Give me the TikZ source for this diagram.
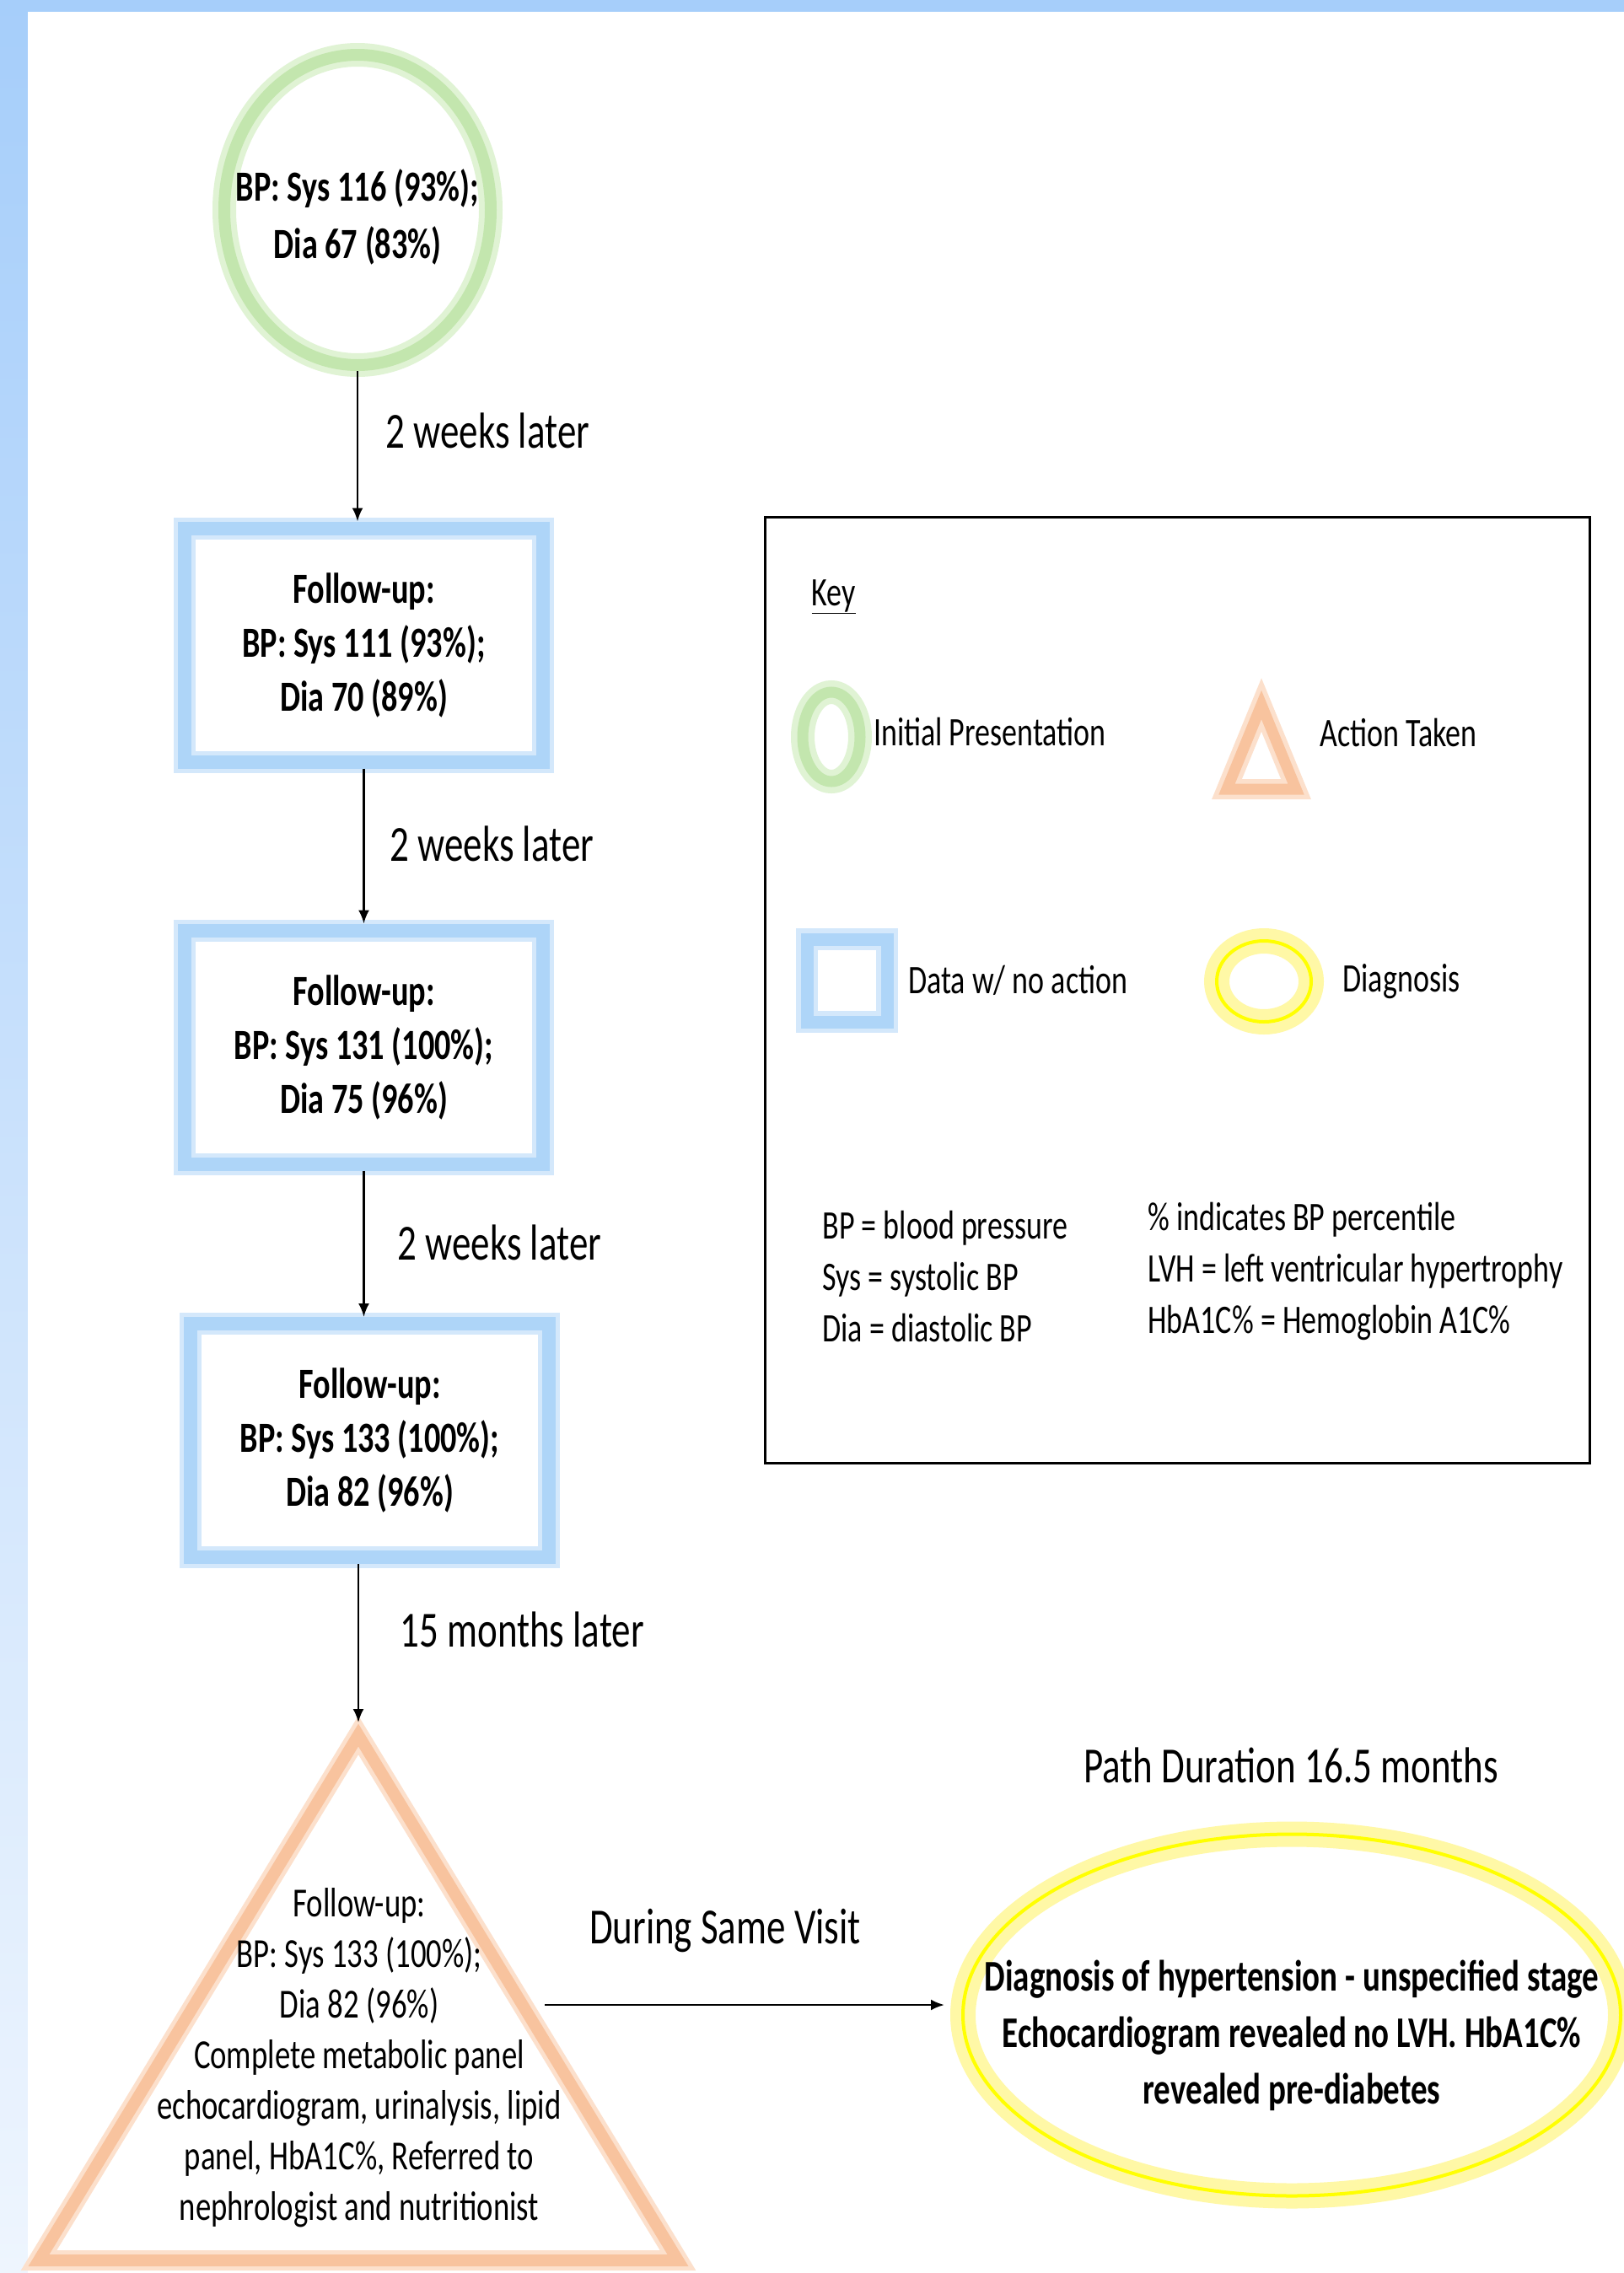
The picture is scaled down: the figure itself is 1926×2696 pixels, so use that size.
\documentclass[tikz,border=0pt]{standalone}
\usepackage{fontspec}
\setmainfont{Carlito}[FakeStretch=0.75]
\usepackage[svgnames]{xcolor}
\definecolor{bgblue}{HTML}{A6CEFA}
\definecolor{bgpale}{HTML}{EEF5FE}
\definecolor{initgreen}{HTML}{C3E6AE}
\definecolor{glowgreen}{HTML}{E0F3D4}
\definecolor{datablue}{HTML}{AED5F8}
\definecolor{glowblue}{HTML}{D4E8FB}
\definecolor{actorange}{HTML}{F8C39E}
\definecolor{gloworange}{HTML}{FCE0CC}
\definecolor{diagyellow}{HTML}{FFFF00}
\definecolor{glowyellow}{HTML}{FFF8A6}
\usepackage{tikz}
\usetikzlibrary{positioning,arrows.meta,shapes.geometric}
\tikzset{
  initNode/.style={%
    ellipse,
    draw=initgreen,
    line width=14pt,
    preaction={draw=glowgreen,line width=28pt},
    minimum width=316pt,
    minimum height=368pt,
    inner sep=0pt},
  initText/.style={%
    align=center,
    font=\fontsize{51}{68}\selectfont\bfseries},
  dataBox/.style={%
    rectangle,
    draw=datablue,
    line width=16pt,
    preaction={draw=glowblue,line width=26pt},
    minimum width=425pt,
    minimum height=277pt,
    align=center,
    font=\fontsize{51}{64}\selectfont\bfseries},
  actTri/.style={%
    draw=actorange,
    line width=14pt,
    preaction={draw=gloworange,line width=24pt}},
  actText/.style={%
    align=center,
    font=\fontsize{49}{60}\selectfont},
  diagNode/.style={%
    ellipse,
    draw=diagyellow,
    line width=4pt,
    preaction={draw=glowyellow,line width=30pt},
    minimum width=780pt,
    minimum height=429pt,
    inner sep=0pt},
  diagText/.style={%
    align=center,
    font=\fontsize{52}{67}\selectfont\bfseries},
  gapLabel/.style={%
    anchor=west,
    font=\fontsize{60}{64}\selectfont},
  flowArrow/.style={%
    -{Latex[length=16pt,width=13pt]},
    line width=2.5pt,
    black},
  keyBox/.style={%
    draw,
    rectangle,
    line width=3pt,
    minimum width=978pt,
    minimum height=1122pt},
  keyText/.style={%
    anchor=west,
    align=left,
    font=\fontsize{48}{61}\selectfont},
  }

\begin{document}
\begin{tikzpicture}[x=1pt,y=-1pt]
  \useasboundingbox (0,0) rectangle (1926,2696);
  \shade[top color=bgblue,bottom color=bgpale] (0,0) rectangle (1926,2696);
  \fill[white] (33,14) rectangle (1926,2696);

  % visits
  \node[initNode,label={[initText,yshift=-8pt]center:{BP: Sys 116 (93\%);\\Dia 67 (83\%)}}] (init) at (424,249) {};
  \node[dataBox] (fu1) at (431.5,765) {Follow-up:\\BP: Sys 111 (93\%);\\Dia 70 (89\%)};
  \node[dataBox] (fu2) at (431.5,1242) {Follow-up:\\BP: Sys 131 (100\%);\\Dia 75 (96\%)};
  \node[dataBox] (fu3) at (438.5,1708.5) {Follow-up:\\BP: Sys 133 (100\%);\\Dia 82 (96\%)};
  \draw[actTri] (425,2058) -- (804,2681) -- (46,2681) -- cycle;
  \coordinate (act top) at (425,2043);
  \coordinate (act side) at (646,2378);
  \node[actText] (act) at (426,2441) {Follow-up:\\BP: Sys 133 (100\%);\\Dia 82 (96\%)\\Complete metabolic panel\\echocardiogram, urinalysis, lipid\\panel, HbA1C\%, Referred to\\nephrologist and nutritionist};
  \node[diagNode,label={[diagText,yshift=-24pt]center:{Diagnosis of hypertension - unspecified stage\\Echocardiogram revealed no LVH. HbA1C\%\\revealed pre-diabetes}}] (diag) at (1532,2390) {};

  \draw[flowArrow] (init.south) -- (init.south |- fu1.north);
  \draw[flowArrow] (fu1.south) -- (fu1.south |- fu2.north);
  \draw[flowArrow] (fu2.south) -- (fu2.south |- fu3.north);
  \draw[flowArrow] (fu3.south -| act top) -- (act top);
  \draw[flowArrow,shorten >=20pt] (act side) -- (act side -| diag.west);

  \node[gapLabel] (gap1) at (454,511) {2 weeks later};
  \node[gapLabel] (gap2) at (459,1001) {2 weeks later};
  \node[gapLabel] (gap3) at (468,1474) {2 weeks later};
  \node[gapLabel] (gap4) at (471,1933) {15 months later};
  \node[gapLabel,anchor=center] (same) at (860,2290) {During Same Visit};
  \node[gapLabel,anchor=center] (dur) at (1531,2094) {Path Duration 16.5 months};

  % key
  \node[keyBox] (key) at (1396.5,1174.5) {};
  \node[keyText] (keyTitle) at (959,708) {\underline{Key}};
  \node[initNode,minimum width=68pt,minimum height=106pt,line width=13pt,preaction={draw=glowgreen,line width=22pt}] (keyInit) at (986,874) {};
  \node[keyText,right=6pt of keyInit,yshift=6pt] (keyInitText) {Initial Presentation};
  \draw[actTri,line width=13pt,preaction={draw=gloworange,line width=20pt}] (1496,836) -- (1537,936) -- (1455,936) -- cycle;
  \node[keyText] (keyActText) at (1562,869) {Action Taken};
  \node[dataBox,minimum width=95pt,minimum height=98pt,line width=15pt,preaction={draw=glowblue,line width=22pt}] (keyData) at (1004.5,1163) {};
  \node[keyText,right=14pt of keyData] (keyDataText) {Data w/ no action};
  \node[diagNode,minimum width=112pt,minimum height=96pt,line width=4pt,preaction={draw=glowyellow,line width=22pt}] (keyDiag) at (1499,1164) {};
  \node[keyText,right=32pt of keyDiag] (keyDiagText) {Diagnosis};
  \node[keyText] (abbrL) at (972,1514) {BP = blood pressure\\Sys = systolic BP\\Dia = diastolic BP};
  \node[keyText] (abbrR) at (1358,1508) {\% indicates BP percentile\\LVH = left ventricular hypertrophy\\HbA1C\% = Hemoglobin A1C\%};
\end{tikzpicture}
\end{document}
